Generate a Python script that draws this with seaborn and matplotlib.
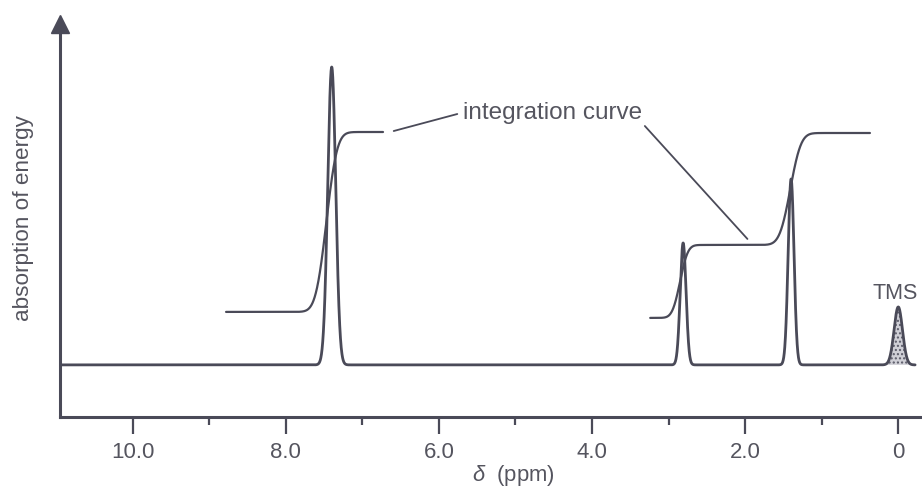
import numpy as np
import pandas as pd
import matplotlib
matplotlib.use("Agg")
import matplotlib.pyplot as plt
import seaborn as sns
from math import erf

# ---- data ----
peak_ppm = [7.40, 2.81, 1.40, 0.00]
peak_height = [2.98, 1.22, 1.86, 0.58]
peak_sigma = [0.052, 0.038, 0.038, 0.055]

# integration curve 1 (aromatic)
int1_range = [8.78, 6.73]
int1_base = 0.53
int1_steps = [7.47]
int1_rise = [1.80]
int1_width = [0.11]

# integration curve 2 (aliphatic)
int2_range = [3.24, 0.37]
int2_base = 0.47
int2_steps = [2.85, 1.41]
int2_rise = [0.73, 1.12]
int2_width = [0.08, 0.11]

xticks = [10.0, 8.0, 6.0, 4.0, 2.0, 0.0]
xtick_labels = ["10.0", "8.0", "6.0", "4.0", "2.0", "0"]
minor_ticks = [9.0, 7.0, 5.0, 3.0, 1.0]

spec_range = [10.95, -0.22]

# ---- style ----
sns.set_theme(style="white")
plt.rcParams["font.family"] = ["Liberation Sans", "DejaVu Sans"]
plt.rcParams["mathtext.fontset"] = "custom"
plt.rcParams["mathtext.it"] = "Liberation Sans:italic"
plt.rcParams["mathtext.rm"] = "Liberation Sans"

ink = "#4a4a58"
txt = "#55555f"

fig = plt.figure(figsize=(9.22, 4.91), dpi=100)
ax = fig.add_axes([0.065, 0.151, 0.935, 0.800])

# spectrum
xs = np.linspace(spec_range[0], spec_range[1], 8000)
ys = np.zeros_like(xs)
for p, h, s in zip(peak_ppm, peak_height, peak_sigma):
    ys += h * np.exp(-0.5 * ((xs - p) / s) ** 2)
spec = pd.DataFrame({"ppm": xs, "signal": ys})
sns.lineplot(data=spec, x="ppm", y="signal", ax=ax, color=ink, lw=2.0,
             estimator=None, sort=False)

# TMS dotted fill
tms_mask = np.abs(xs - peak_ppm[3]) < 0.3
ax.fill_between(xs[tms_mask], 0, ys[tms_mask], facecolor="#cfcfd6",
                edgecolor="#5a5a68", hatch="....", lw=0)

verf = np.vectorize(erf)

def integ(rng, base, steps, rise, width):
    x = np.linspace(rng[0], rng[1], 1500)
    y = np.full_like(x, base)
    for c, r, w in zip(steps, rise, width):
        y += r * 0.5 * (1 + verf((c - x) / (w * np.sqrt(2))))
    return pd.DataFrame({"ppm": x, "integral": y})

for df in (integ(int1_range, int1_base, int1_steps, int1_rise, int1_width),
           integ(int2_range, int2_base, int2_steps, int2_rise, int2_width)):
    sns.lineplot(data=df, x="ppm", y="integral", ax=ax, color=ink, lw=1.6,
                 estimator=None, sort=False)

# annotation
ax.text(5.69, 2.52, "integration curve", fontsize=17.5, color=txt,
        ha="left", va="center")
ax.plot([6.59, 5.76], [2.34, 2.51], color=ink, lw=1.3)
ax.plot([3.31, 1.97], [2.39, 1.26], color=ink, lw=1.3)
ax.text(0.04, 0.71, "TMS", fontsize=15.5, color=txt, ha="center", va="center")

# axes
ax.set_xlim(10.95, -0.31)
ax.set_ylim(-0.52, 3.41)
ax.set_xticks(xticks)
ax.set_xticklabels(xtick_labels)
ax.set_xticks(minor_ticks, minor=True)
ax.set_yticks([])
ax.set_xlabel("")
ax.set_ylabel("")
ax.tick_params(axis="x", which="major", direction="out", length=12, width=1.6,
               color=ink, labelsize=16, labelcolor=txt, pad=6, bottom=True)
ax.tick_params(axis="x", which="minor", direction="out", length=6, width=1.6,
               color=ink, bottom=True)
for side in ("top", "right"):
    ax.spines[side].set_visible(False)
for side in ("left", "bottom"):
    ax.spines[side].set_color(ink)
    ax.spines[side].set_linewidth(2.2)
ax.plot([0], [1], marker="^", markersize=13, color=ink, transform=ax.transAxes,
        clip_on=False)

fig.text(24 / 922, 1 - 218 / 491, "absorption of energy", rotation=90,
         fontsize=16.2, color=txt, ha="center", va="center")
fig.text(513 / 922, 1 - 475 / 491, r"$\delta$  (ppm)", fontsize=15.8, color=txt,
         ha="center", va="center")

fig.savefig("out.png", dpi=100, facecolor="white")
